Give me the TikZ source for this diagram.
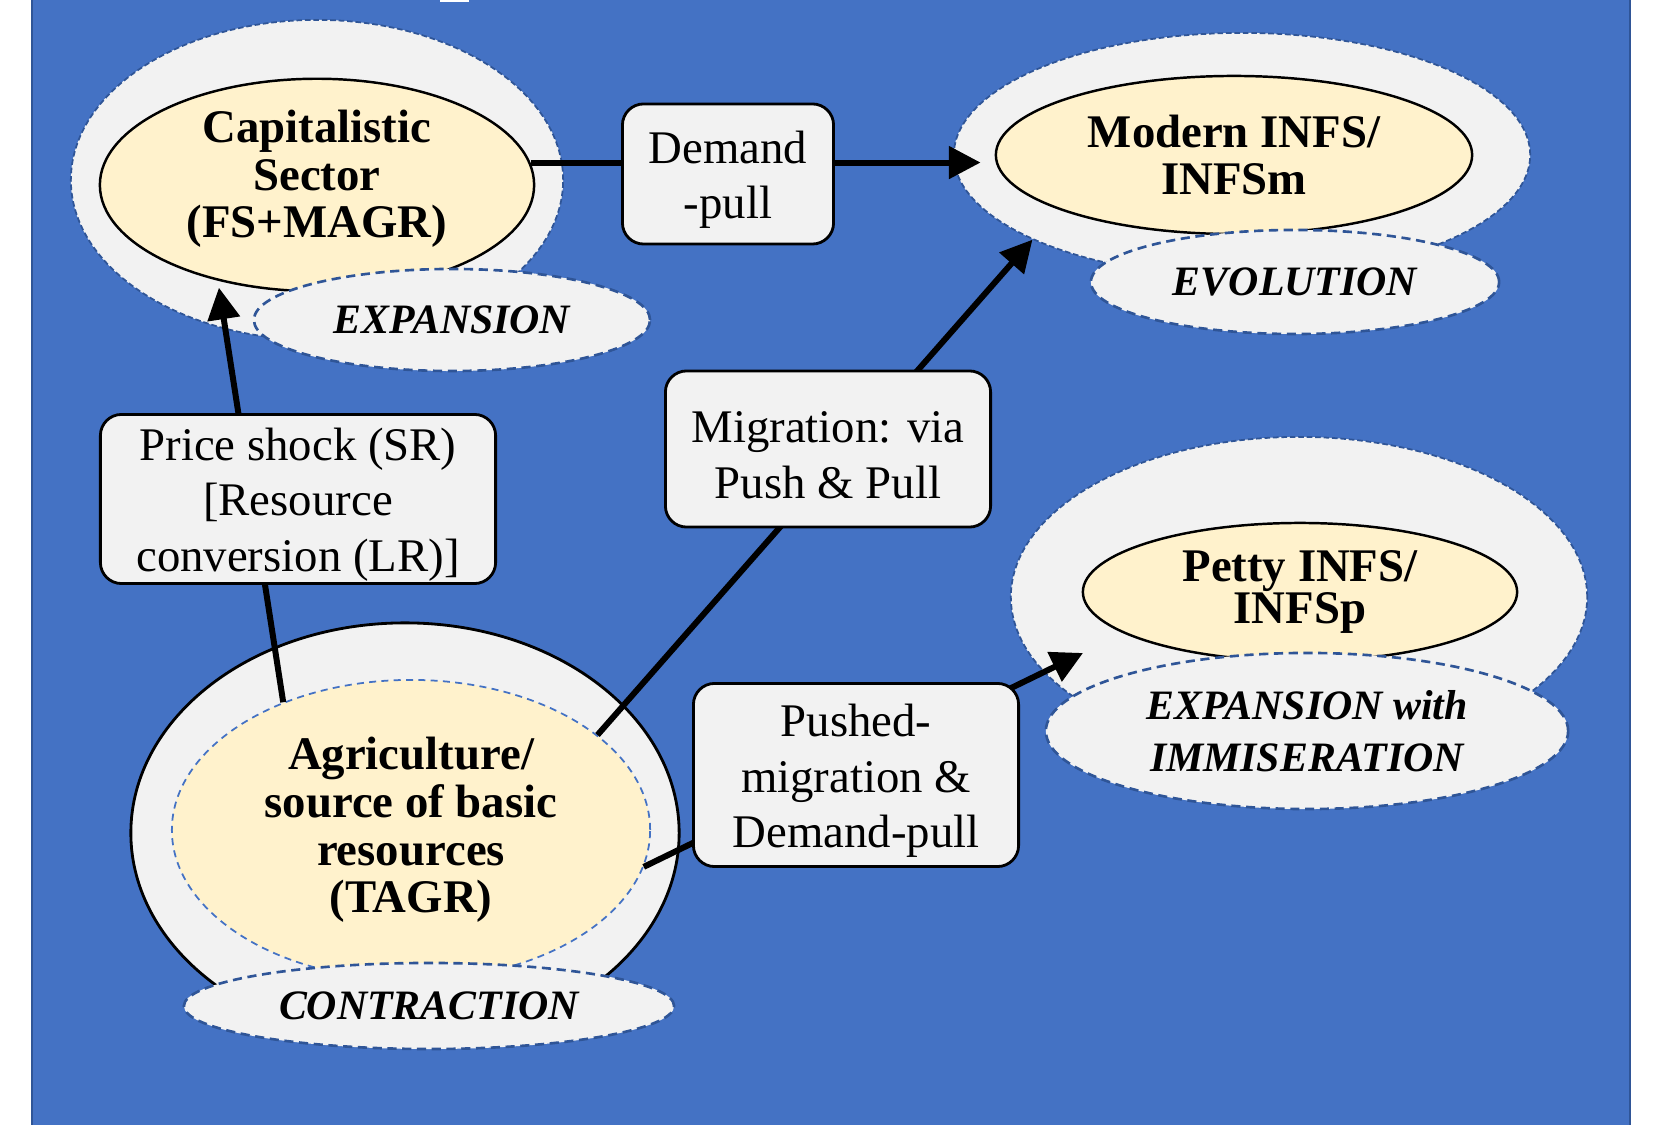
\documentclass[tikz,border=0pt]{standalone}
\usepackage{fontspec}
\setmainfont{Liberation Serif}
\usepackage{tikz}
\usetikzlibrary{arrows.meta,positioning,shapes.geometric,calc}
\definecolor{ink}{HTML}{000000}
\definecolor{slideblue}{HTML}{4472C4}
\definecolor{edgeblue}{HTML}{2F5597}
\definecolor{zonegray}{HTML}{F2F2F2}
\definecolor{coreyellow}{HTML}{FFF2CC}
\newcommand{\cardtop}{\rule{0pt}{12.5pt}}
\tikzset{
  zonering/.style={
    ellipse, draw=edgeblue, fill=zonegray, line width=0.5pt,
    dash pattern=on 1.6pt off 0.8pt, inner sep=0pt
  },
  sectorcore/.style={
    ellipse, draw=ink, fill=coreyellow, line width=0.7pt,
    inner sep=0pt, align=center,
    font=\fontsize{13.3}{13.6}\selectfont\bfseries
  },
  phasetag/.style={
    ellipse, draw=edgeblue, fill=zonegray, line width=0.75pt,
    dash pattern=on 2.6pt off 1.6pt, inner sep=0pt, align=center,
    font=\fontsize{11.9}{14.7}\selectfont\bfseries\itshape
  },
  flowcard/.style={
    draw=ink, fill=zonegray, line width=0.8pt, rounded corners=6pt,
    align=center, inner sep=0pt, font=\fontsize{13.3}{15.9}\selectfont
  },
  flowline/.style={draw=ink, line width=1.7pt},
  flowarrow/.style={flowline, -{Triangle[length=9pt,width=9pt]}}
}

\begin{document}
\begin{tikzpicture}[x=0.01cm, y=-0.01cm]
\useasboundingbox (0,0) rectangle (1658,1125);
\fill[white] (0,0) rectangle (1658,1125);
\filldraw[fill=slideblue, draw=edgeblue, line width=0.6pt] (32,-10) rectangle (1630,1135);
\fill[white] (440,0) rectangle (469,2.5);

% capitalistic sector
\node[zonering, minimum width=4.92cm, minimum height=3.20cm] (capring) at (317,180) {};
\node[sectorcore, minimum width=4.34cm, minimum height=1.88cm,
      execute at end node={\rule[-6.3pt]{0pt}{0pt}}] (capcore) at (317,185) {Capitalistic\\Sector\\(FS+MAGR)};
\node[phasetag, minimum width=3.96cm, minimum height=1.02cm] (captag) at (452,320) {EXPANSION};

% modern informal sector
\node[zonering, minimum width=5.76cm, minimum height=2.44cm] (modring) at (1242,155) {};
\node[sectorcore, minimum width=4.76cm, minimum height=1.58cm] (modcore) at (1234,155) {Modern INFS/\\INFSm};
\node[phasetag, minimum width=4.08cm, minimum height=1.04cm] (modtag) at (1295,282) {EVOLUTION};

% petty informal sector
\node[zonering, minimum width=5.76cm, minimum height=3.20cm] (pettyring) at (1299,597) {};
\node[sectorcore, font=\fontsize{13.3}{12}\selectfont\bfseries, minimum width=4.34cm, minimum height=1.38cm] (pettycore) at (1300,592) {Petty INFS/\\INFSp};
\node[phasetag, minimum width=5.22cm, minimum height=1.56cm] (pettytag) at (1307,731) {EXPANSION with\\IMMISERATION};

% agriculture
\node[zonering, draw=ink, line width=0.8pt, solid, minimum width=5.48cm, minimum height=4.20cm] (agriring) at (405,833) {};
\node[sectorcore, draw=slideblue, line width=0.5pt, dash pattern=on 2pt off 1.5pt, minimum width=4.78cm, minimum height=3.00cm] (agricore) at (411,830) {Agriculture/\\source of basic\\resources\\(TAGR)};
\node[phasetag, minimum width=4.90cm, minimum height=0.86cm] (agritag) at (429,1006) {CONTRACTION};

% flows
\draw[flowarrow, shorten >=4pt] (capcore.6) -- (capcore.6 -| modcore.west);
\draw[flowarrow, shorten >=2pt] (agricore.135) -- (capcore.224);
\draw[flowarrow] (agricore.27) -- (modring.202);
\coordinate (pettytip) at ($(pettyring.center)+(-216,56)$);
\draw[flowarrow] (agricore.-9) -- (pettytip);

\node[flowcard, minimum width=2.11cm, minimum height=1.40cm] (demandcard) at (728,174) {\cardtop Demand\\-pull};
\node[flowcard, minimum width=3.95cm, minimum height=1.69cm] (pricecard) at (298,499) {\cardtop Price shock (SR)\\{[}Resource\\conversion (LR)]};
\node[flowcard, minimum width=3.25cm, minimum height=1.56cm] (migcard) at (828,449) {\cardtop Migration: via\\Push \& Pull};
\node[flowcard, minimum width=3.25cm, minimum height=1.83cm] (pushcard) at (856,775) {\cardtop Pushed-\\migration \&\\Demand-pull};
\end{tikzpicture}
\end{document}
